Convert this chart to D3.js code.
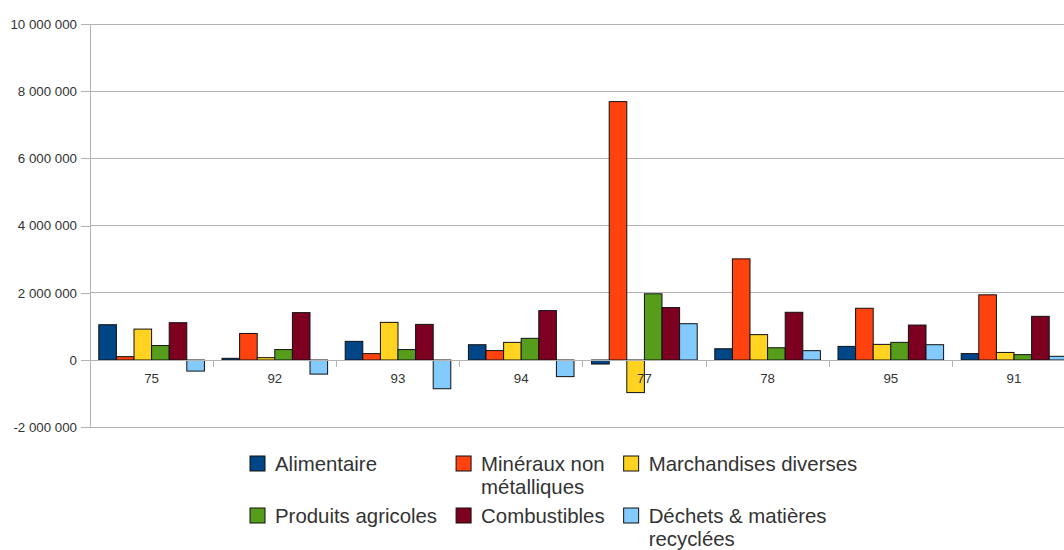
<!DOCTYPE html>
<html>
<head>
<meta charset="utf-8">
<script src="https://cdn.jsdelivr.net/npm/d3@7"></script>
<style>
  body { margin: 0; background: #fff; }
  svg { display: block; font-family: "Liberation Sans", Arial, sans-serif; }
</style>
</head>
<body>
<svg id="chart" width="1064" height="550"></svg>
<script>
// departements (category axis)
var categories = ["75", "92", "93", "94", "77", "78", "95", "91"];

var seriesNames = ["Alimentaire", "Minéraux non métalliques", "Marchandises diverses",
                   "Produits agricoles", "Combustibles", "Déchets & matières recyclées"];

// legend lines, as wrapped in the original
var legendLines = [["Alimentaire"], ["Minéraux non", "métalliques"], ["Marchandises diverses"],
                   ["Produits agricoles"], ["Combustibles"], ["Déchets & matières", "recyclées"]];

var colors = ["#004586", "#ff420e", "#ffd320", "#579d1c", "#7e0021", "#83caff"];

var alimentaire  = [1050000, 50000, 555000, 455000, -120000, 335000, 405000, 190000];
var mineraux     = [100000, 790000, 190000, 280000, 7690000, 3010000, 1540000, 1940000];
var marchandises = [920000, 70000, 1120000, 525000, -970000, 755000, 465000, 225000];
var agricoles    = [430000, 310000, 310000, 645000, 1970000, 365000, 525000, 160000];
var combustibles = [1110000, 1410000, 1060000, 1470000, 1560000, 1420000, 1040000, 1300000];
var dechets      = [-330000, -420000, -855000, -495000, 1080000, 278000, 455000, 110000];

var yTicks = [-2000000, 0, 2000000, 4000000, 6000000, 8000000, 10000000];

var seriesValues = [alimentaire, mineraux, marchandises, agricoles, combustibles, dechets];

var svg = d3.select("#chart");

var plotLeft = 90, plotRight = 1075.6, plotTop = 24, plotBottom = 427.2;

var x0 = d3.scaleBand().domain(categories).range([plotLeft, plotRight]).padding(0);
var x1 = d3.scaleBand().domain(d3.range(seriesNames.length))
	.range([0, x0.bandwidth()]).paddingInner(0).paddingOuter(0.5);
var y = d3.scaleLinear().domain([-2000000, 10000000]).range([plotBottom, plotTop]);

function fmt(v)
{
	return d3.format(",")(v).replace(/,/g, " ").replace("−", "-");
}

// gridlines
svg.append("g")
	.selectAll("line")
	.data(yTicks)
	.join("line")
	.attr("x1", plotLeft).attr("x2", plotRight)
	.attr("y1", function(d) { return y(d); })
	.attr("y2", function(d) { return y(d); })
	.attr("stroke", "#b3b3b3").attr("stroke-width", 1)
	.attr("shape-rendering", "crispEdges");

// y axis
var yAxis = svg.append("g")
	.attr("transform", "translate(" + plotLeft + ",0)")
	.call(d3.axisLeft(y).tickValues(yTicks).tickFormat(fmt).tickSizeOuter(0).tickSize(9).tickPadding(4));
yAxis.select(".domain").attr("stroke", "#b3b3b3").attr("shape-rendering", "crispEdges");
yAxis.selectAll(".tick line").attr("stroke", "#b3b3b3").attr("shape-rendering", "crispEdges");
yAxis.selectAll("text").attr("fill", "#333").style("font-size", "13.3px")
	.style("font-family", "Liberation Sans, Arial, sans-serif");

// bars
var groups = svg.append("g")
	.selectAll("g")
	.data(categories)
	.join("g")
	.attr("transform", function(d) { return "translate(" + x0(d) + ",0)"; });

groups.selectAll("rect")
	.data(function(c, ci) { return seriesValues.map(function(vals, si) { return {s: si, v: vals[ci]}; }); })
	.join("rect")
	.attr("x", function(d) { return x1(d.s); })
	.attr("width", x1.bandwidth())
	.attr("y", function(d) { return y(Math.max(0, d.v)); })
	.attr("height", function(d) { return Math.abs(y(d.v) - y(0)); })
	.attr("fill", function(d) { return colors[d.s]; })
	.attr("stroke", "#111").attr("stroke-width", 1);

// x axis at zero
var xAxis = svg.append("g")
	.attr("transform", "translate(0," + y(0) + ")")
	.call(d3.axisBottom(x0).tickSize(0).tickSizeOuter(0).tickPadding(14));
xAxis.select(".domain").attr("stroke", "#b3b3b3").attr("shape-rendering", "crispEdges");
xAxis.selectAll("text").attr("fill", "#333").style("font-size", "13.3px")
	.style("font-family", "Liberation Sans, Arial, sans-serif");
xAxis.selectAll(".sep")
	.data(categories)
	.join("line")
	.attr("class", "sep")
	.attr("x1", function(d) { return x0(d); })
	.attr("x2", function(d) { return x0(d); })
	.attr("y1", 0).attr("y2", 7)
	.attr("stroke", "#b3b3b3")
	.attr("shape-rendering", "crispEdges");

// legend: 3 columns x 2 rows
var legend = svg.append("g");
var legendX = 250, legendY = 456, lineH = 23, nCols = 3;
var rowTop = [legendY, legendY + 52];

var items = legend.selectAll("g")
	.data(seriesNames)
	.join("g");

items.append("rect")
	.attr("width", 15).attr("height", 15)
	.attr("fill", function(d, i) { return colors[i]; })
	.attr("stroke", "#111").attr("stroke-width", 1);

items.append("text")
	.attr("fill", "#333")
	.style("font-size", "20.4px")
	.selectAll("tspan")
	.data(function(d, i) { return legendLines[i]; })
	.join("tspan")
	.attr("x", 25)
	.attr("y", function(d, j) { return 15 + j * lineH; })
	.text(function(d) { return d; });

// column widths from measured text
var colWidths = d3.range(nCols).map(function() { return 0; });
items.each(function(d, i)
	{
		var w = this.querySelector("text").getBBox().width;
		colWidths[i % nCols] = Math.max(colWidths[i % nCols], w);
	}
);
var colX = [legendX];
for (var c = 1; c < nCols; c++)
{
	colX.push(colX[c - 1] + 25 + colWidths[c - 1] + 19);
}

items.attr("transform", function(d, i)
	{
		return "translate(" + colX[i % nCols] + "," + rowTop[Math.floor(i / nCols)] + ")";
	}
);
</script>
</body>
</html>
